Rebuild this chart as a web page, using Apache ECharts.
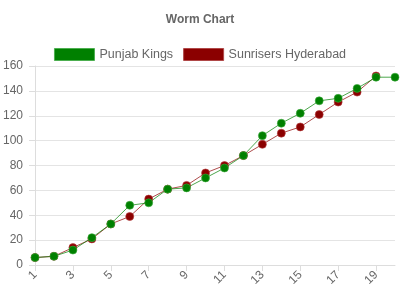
<!DOCTYPE html>
<html><head><meta charset="utf-8">
<script src="https://cdn.jsdelivr.net/npm/echarts@6/dist/echarts.min.js"></script>
<style>html,body{margin:0;padding:0;background:#fff}#c{width:400px;height:300px}</style>
</head><body><div id="c"></div>
<script>
var overs = ['1','2','3','4','5','6','7','8','9','10','11','12','13','14','15','16','17','18','19','20'];
var punjabKings = [6,7,12,22,33,48,50,61,62,70,78,88,104,114,122,132,134,142,151,151];
var sunrisers = [6,7,14,21,33,39,53,61,64,74,80,88,97,106,111,121,131,139,152];
var names = ['Punjab Kings','Sunrisers Hyderabad'];
var chart = echarts.init(document.getElementById('c'));
var font = 'Liberation Sans, Arial, sans-serif';
chart.setOption({
  animation:false,
  title:{text:'Worm Chart',left:'center',top:9,textStyle:{fontFamily:font,fontSize:12,fontWeight:'bold',color:'#666'}},
  legend:{top:43,left:'center',itemWidth:40,itemHeight:12,itemGap:10,icon:'rect',
    textStyle:{fontFamily:font,fontSize:12.5,color:'#666'},
    data:[{name:names[0],itemStyle:{color:'#008000',borderColor:'#4caf50',borderWidth:1}},
          {name:names[1],itemStyle:{color:'#8b0000',borderColor:'#b04848',borderWidth:1}}]},
  grid:{left:35,right:5,top:66,bottom:35},
  xAxis:{type:'category',data:overs,boundaryGap:false,
    axisLine:{lineStyle:{color:'#ddd'}},
    axisTick:{alignWithLabel:true,interval:1,length:6,lineStyle:{color:'#ddd'}},
    axisLabel:{interval:1,rotate:45,fontFamily:font,fontSize:12,color:'#666',margin:8},
    splitLine:{show:false}},
  yAxis:{type:'value',min:0,max:160,interval:20,
    axisLine:{show:true,lineStyle:{color:'#ddd'}},
    axisTick:{show:true,length:6,lineStyle:{color:'#ddd'}},
    axisLabel:{fontFamily:font,fontSize:12,color:'#666',margin:12},
    splitLine:{lineStyle:{color:'#e4e4e4'}}},
  series:[
    {name:names[1],type:'line',data:sunrisers,symbol:'circle',symbolSize:8,
      lineStyle:{width:1,color:'rgba(139,0,0,0.7)'},
      itemStyle:{color:'#8b0000',borderColor:'rgba(180,60,60,0.6)',borderWidth:1}},
    {name:names[0],type:'line',data:punjabKings,symbol:'circle',symbolSize:8,
      lineStyle:{width:1,color:'rgba(0,128,0,0.7)'},
      itemStyle:{color:'#008000',borderColor:'rgba(60,170,60,0.6)',borderWidth:1}}
  ]
});
</script></body></html>
